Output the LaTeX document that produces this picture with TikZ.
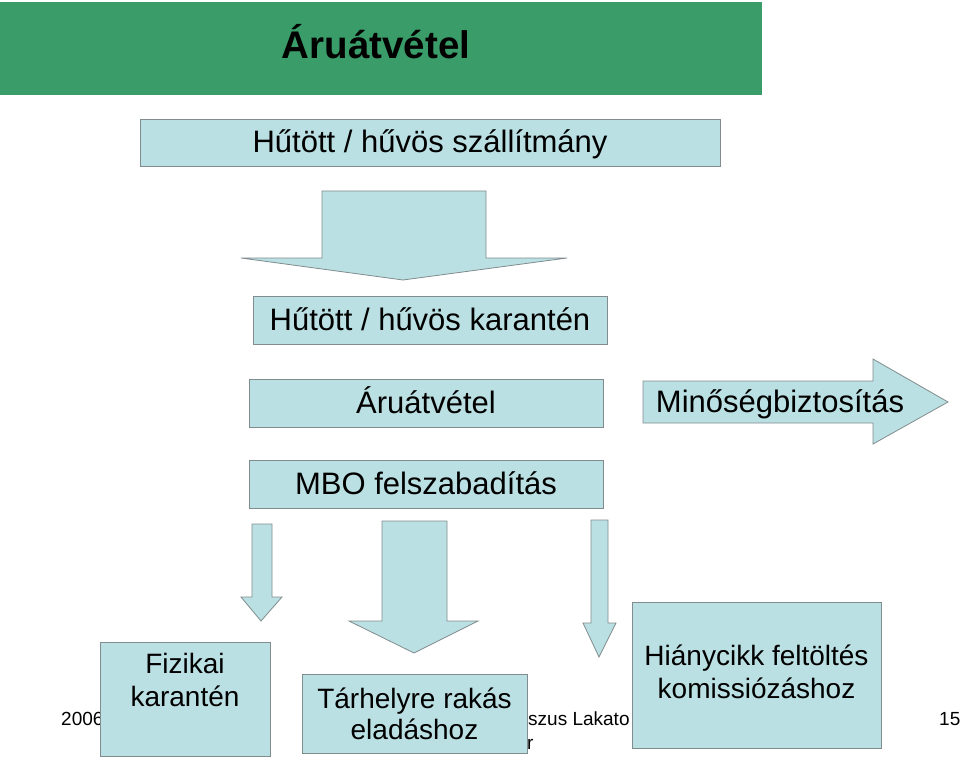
\documentclass[tikz,border=0pt]{standalone}
\usepackage{fontspec}
\setmainfont{Liberation Sans}
\definecolor{band}{RGB}{57,156,105}
\definecolor{boxfill}{RGB}{187,224,227}
\definecolor{boxline}{RGB}{128,140,142}
\begin{document}
\begin{tikzpicture}[x=1pt,y=-1pt,
  box/.style={draw=boxline, fill=boxfill, line width=0.8pt, inner sep=0pt,
    text height=22pt, text depth=2pt, font=\fontsize{31}{35}\selectfont},
  plainbox/.style={draw=boxline, fill=boxfill, line width=0.8pt, inner sep=0pt},
  btext/.style={inner sep=0pt, anchor=base, font=\fontsize{28}{32}\selectfont},
  blockarrow/.style={draw=boxline, fill=boxfill, line width=0.8pt, line join=miter},
  foot/.style={inner sep=0pt, anchor=base west, font=\fontsize{19}{23}\selectfont}]
\useasboundingbox (0,0) rectangle (960,759);
\fill[white] (0,0) rectangle (960,759);
% title band
\node[fill=band, minimum width=762pt, minimum height=93pt, inner sep=0pt, anchor=north west] (band) at (0,2) {};
\node[inner sep=0pt, anchor=base, font=\bfseries\fontsize{38.5}{44}\selectfont] (title) at (376,59) {Áruátvétel};
% footer (partly hidden behind the boxes)
\node[foot] (f1) at (61,725) {2006};
\node[foot] (f2) at (528,725) {szus Lakato};
\node[foot] (f3) at (527,749) {r};
\node[foot] (f4) at (939,725) {15};
% top boxes
\node[box, minimum width=580pt, minimum height=47pt] (b1) at (430,142.5) {Hűtött / hűvös szállítmány};
\path[blockarrow] (322,191) -- (486,191) -- (486,258) -- (567,258) -- (403,280) -- (241,258) -- (322,258) -- cycle;
\node[box, minimum width=354pt, minimum height=48pt] (b2) at (430,320) {Hűtött / hűvös karantén};
\node[box, minimum width=354pt, minimum height=48pt] (b3) at (426,403) {Áruátvétel};
\path[blockarrow] (643,381) -- (873,381) -- (873,359) -- (948,402) -- (873,444) -- (873,423) -- (643,423) -- cycle;
\node[inner sep=0pt, text height=22pt, text depth=2pt, font=\fontsize{31}{35}\selectfont] (qa) at (780,402) {Minőségbiztosítás};
\node[box, minimum width=354pt, minimum height=48pt] (b4) at (426,484) {MBO felszabadítás};
% small arrows
\path[blockarrow] (252,524) -- (272,524) -- (272,597) -- (282,597) -- (261,621) -- (241,597) -- (252,597) -- cycle;
\path[blockarrow] (382,521) -- (447,521) -- (447,621) -- (478,621) -- (414,653) -- (349,621) -- (382,621) -- cycle;
\path[blockarrow] (591,520) -- (608,520) -- (608,623) -- (616,623) -- (599,657) -- (583,623) -- (591,623) -- cycle;
% bottom boxes
\node[plainbox, minimum width=170pt, minimum height=114pt] (fk) at (185,699) {};
\node[btext] (fk1) at (185,673) {Fizikai};
\node[btext] (fk2) at (185,706) {karantén};
\node[plainbox, minimum width=225pt, minimum height=79pt] (th) at (414.5,713.5) {};
\node[btext] (th1) at (414.5,708) {Tárhelyre rakás};
\node[btext] (th2) at (414.5,739) {eladáshoz};
\node[plainbox, minimum width=249pt, minimum height=146pt] (hc) at (756.5,675) {};
\node[btext] (hc1) at (756.5,665) {Hiánycikk feltöltés};
\node[btext] (hc2) at (756.5,698) {komissiózáshoz};
\end{tikzpicture}
\end{document}
